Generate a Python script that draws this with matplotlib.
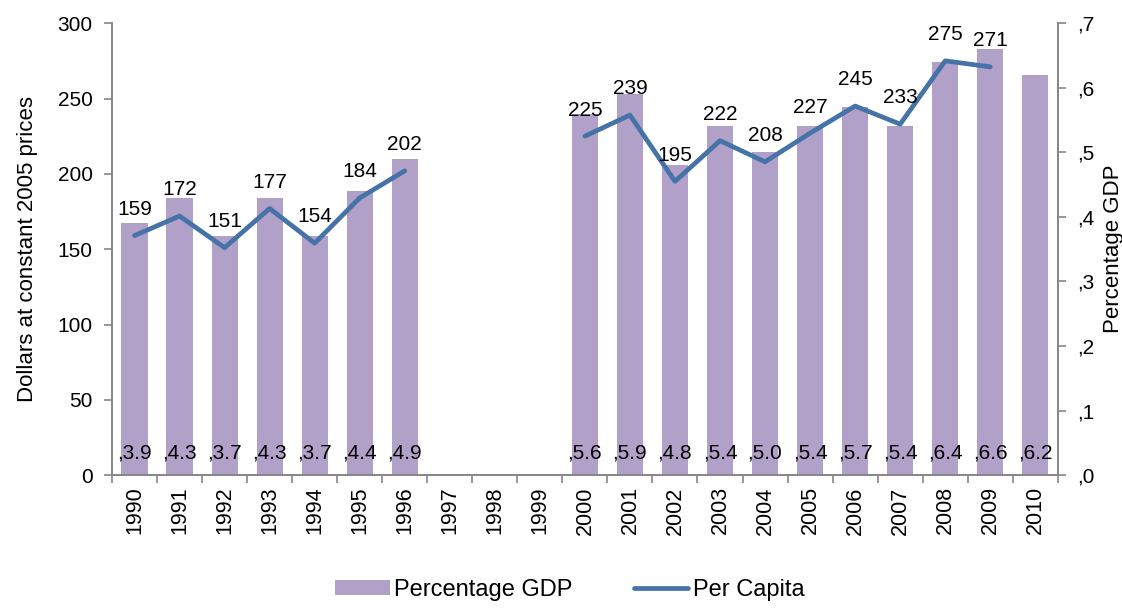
import numpy as np
import matplotlib.pyplot as plt
from matplotlib.ticker import FixedLocator, FuncFormatter

plt.rcParams['font.family'] = ['Liberation Sans', 'DejaVu Sans']

years = [str(y) for y in range(1990, 2011)]
# per capita, dollars at constant 2005 prices (no data 1997-1999, 2010)
per_capita = [159, 172, 151, 177, 154, 184, 202, np.nan, np.nan, np.nan,
              225, 239, 195, 222, 208, 227, 245, 233, 275, 271, np.nan]
# percentage of GDP, as written on the bars
pct_gdp = [3.9, 4.3, 3.7, 4.3, 3.7, 4.4, 4.9, np.nan, np.nan, np.nan,
           5.6, 5.9, 4.8, 5.4, 5.0, 5.4, 5.7, 5.4, 6.4, 6.6, 6.2]

bar_col = '#b1a0c7'
line_col = '#4572a7'
grey = '#868686'
fs = 15

x = np.arange(len(years))
pc = np.array(per_capita, dtype=float)
gdp = np.array(pct_gdp, dtype=float)

fig = plt.figure(figsize=(11.22, 6.10), dpi=100)
ax = fig.add_axes([0.0998, 0.221, 0.843, 0.741])
ax2 = ax.twinx()
# bars behind the line
ax.set_zorder(ax2.get_zorder() + 1)
ax.patch.set_visible(False)

bars = ax2.bar(x, gdp / 10, width=0.58, color=bar_col, label='Percentage GDP')
line, = ax.plot(x, pc, color=line_col, lw=3.4, solid_capstyle='round',
                solid_joinstyle='round', label='Per Capita')

for i in range(len(x)):
    if not np.isnan(pc[i]):
        ax.annotate('%d' % pc[i], (x[i], pc[i]), xytext=(0, 12),
                    textcoords='offset points', ha='center', va='bottom',
                    fontsize=fs)
    if not np.isnan(gdp[i]):
        ax2.annotate(',%.1f' % gdp[i], (x[i], 0), xytext=(0, 9),
                     textcoords='offset points', ha='center', va='bottom',
                     fontsize=fs)

ax.set_xlim(-0.5, len(x) - 0.5)
ax.set_ylim(0, 300)
ax2.set_ylim(0, 0.7)
ax.set_yticks(np.arange(0, 301, 50))
ax2.set_yticks(np.arange(0, 0.71, 0.1))
ax2.yaxis.set_major_formatter(FuncFormatter(lambda v, p: ',%d' % round(v * 10)))

ax.set_xticks(x)
ax.set_xticklabels(years, rotation=90, fontsize=15.5)
ax.xaxis.set_minor_locator(FixedLocator(np.arange(-0.5, len(x), 1)))
ax.tick_params(axis='x', which='major', length=0, pad=8)
ax.tick_params(axis='x', which='minor', length=6, color=grey, width=1.2)
ax.tick_params(axis='y', length=6, color=grey, width=1.2, labelsize=fs, pad=8)
ax2.tick_params(axis='y', length=6, color=grey, width=1.2, labelsize=fs, pad=8)

for a in (ax, ax2):
    a.spines['top'].set_visible(False)
    for s in ('left', 'right', 'bottom'):
        a.spines[s].set_color(grey)
        a.spines[s].set_linewidth(1.2)

ax.set_ylabel('Dollars at constant 2005 prices', fontsize=16, labelpad=14)
ax2.set_ylabel('Percentage GDP', fontsize=16, rotation=90, labelpad=6)

fig.legend([bars, line], ['Percentage GDP', 'Per Capita'], loc='lower center',
           bbox_to_anchor=(0.508, -0.02), ncol=2, frameon=False, fontsize=17,
           handlelength=2.3, handleheight=0.6, columnspacing=2.6,
           handletextpad=0.2)

fig.savefig('out.png', dpi=100)
